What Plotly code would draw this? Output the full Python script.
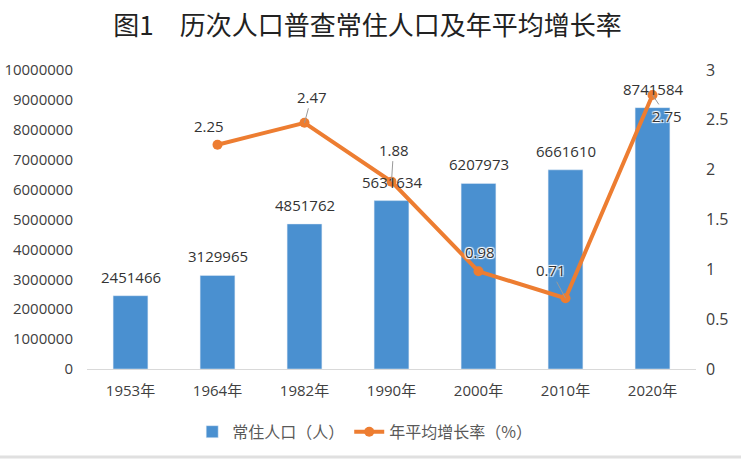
import plotly.graph_objects as go

categories = ["1953年", "1964年", "1982年", "1990年", "2000年", "2010年", "2020年"]
population = [2451466, 3129965, 4851762, 5631634, 6207973, 6661610, 8741584]
growth_cats = ["1964年", "1982年", "1990年", "2000年", "2010年", "2020年"]
growth = [2.25, 2.47, 1.88, 0.98, 0.71, 2.75]

left_ticks = [0, 1000000, 2000000, 3000000, 4000000, 5000000, 6000000, 7000000, 8000000, 9000000, 10000000]
right_ticks = [0, 0.5, 1, 1.5, 2, 2.5, 3]

BLUE = "#4A90D0"
ORANGE = "#ED7D31"
TXT = "#404040"
FONT = "Open Sans, Noto Sans CJK SC, sans-serif"

fig = go.Figure()
fig.add_trace(go.Bar(
    x=categories, y=population, name="常住人口（人）",
    marker=dict(color=BLUE), width=0.4,
))
fig.add_trace(go.Scatter(
    x=growth_cats, y=growth, name="年平均增长率（%）", yaxis="y2",
    mode="lines+markers", line=dict(color=ORANGE, width=4),
    marker=dict(color=ORANGE, size=10),
))

# bar value labels
for c, v in zip(categories, population):
    fig.add_annotation(x=c, y=v, text=str(v), showarrow=False, yanchor="middle",
                       yshift=19, font=dict(size=15, color="#333333", family=FONT))

# line value labels (offsets in px, leader flag)
offsets = [(-9, -19, False), (7, -26, True), (2, -32, True), (1, -19, False), (-15, -28, True), (14, 21, True)]
halo = "1px 1px 1px white, -1px -1px 1px white, 1px -1px 1px white, -1px 1px 1px white"
for c, v, (ax, ay, lead) in zip(growth_cats, growth, offsets):
    fig.add_annotation(x=c, y=v, yref="y2", text=f"{v:.2f}", showarrow=True,
                       ax=ax, ay=ay, arrowhead=0, arrowwidth=1,
                       arrowcolor="#999999" if lead else "rgba(0,0,0,0)",
                       font=dict(size=15, color="#333333", family=FONT, shadow=halo))

fig.update_layout(
    width=741, height=465,
    margin=dict(l=87, r=45, t=70, b=96, autoexpand=False),
    paper_bgcolor="white", plot_bgcolor="white",
    title=dict(text="图1　历次人口普查常住人口及年平均增长率", x=0.496, xref="container",
               xanchor="center", y=0.945, yanchor="middle",
               font=dict(size=26, color="#222222", family="Noto Sans CJK SC")),
    font=dict(family=FONT, size=15, color=TXT),
    showlegend=True,
    legend=dict(orientation="h", x=0.456, xanchor="center", y=-0.21, yanchor="middle",
                font=dict(size=16, color="#595959", family="Noto Sans CJK SC")),
    xaxis=dict(type="category", showline=True, linecolor="#d9d9d9", linewidth=1,
               showgrid=False, ticks="", ticklabelstandoff=8, automargin=False,
               tickfont=dict(size=15, color=TXT, family=FONT)),
    yaxis=dict(range=[0, 10000000], tickvals=left_ticks, ticktext=[str(t) for t in left_ticks],
               showgrid=False, zeroline=False, showline=False, ticks="", automargin=False,
               tickfont=dict(size=15, color=TXT), ticklabelstandoff=13),
    yaxis2=dict(range=[0, 3], tickvals=right_ticks, overlaying="y", side="right",
                showgrid=False, zeroline=False, showline=False, ticks="", automargin=False,
                tickfont=dict(size=16, color=TXT), ticklabelstandoff=9),
    bargap=0.6,
)
fig.add_shape(type="line", xref="paper", yref="paper", x0=-0.2, x1=1.1, y0=-0.294, y1=-0.294,
              line=dict(color="#e0e0e0", width=3))

fig.write_html("out.html", config={"displayModeBar": False},
               post_script="document.body.style.margin='0';")
